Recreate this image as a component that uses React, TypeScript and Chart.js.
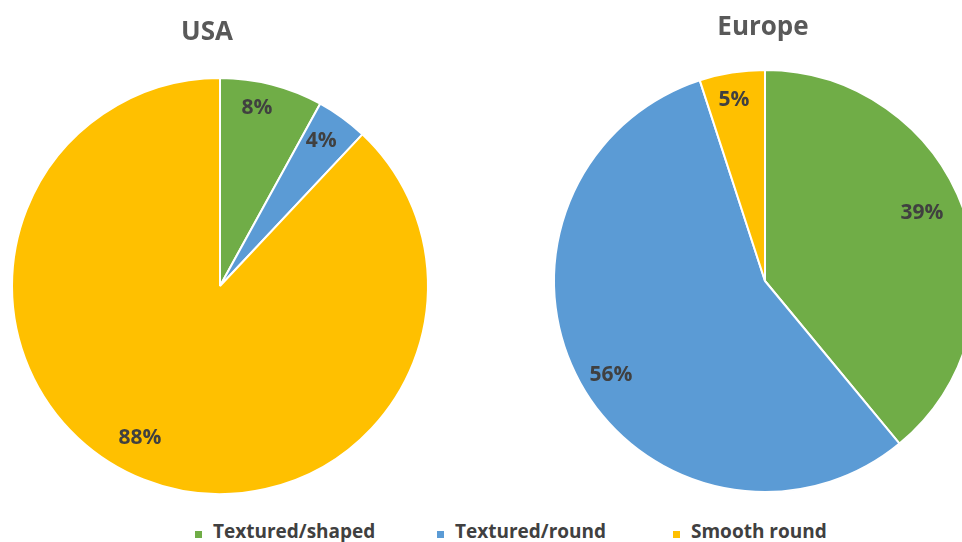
import React, { useEffect, useRef } from "react";
import { Chart, registerables } from "chart.js";

Chart.register(...registerables);

// ---- data ----
const categories = ["Textured/shaped", "Textured/round", "Smooth round"];
const usaValues = [8, 4, 88];
const europeValues = [39, 56, 5];
const sliceColors = ["#70AD47", "#5B9BD5", "#FFC000"];
const usaTitle = "USA";
const europeTitle = "Europe";

// label placement (style): distance from centre as a fraction of the radius,
// and a small angular nudge (degrees) from the slice's mid angle
const usaLabelRadial = [0.874, 0.85, 0.826];
const usaLabelNudge = [-2.7, -1.1, 6.2];
const europeLabelRadial = [0.81, 0.855, 0.87];
const europeLabelNudge = [-3.6, -2.6, -0.7];

const pieTextPlugin = {
  id: "pieText",
  afterDraw(chart: any, _args: any, opts: any) {
    const ctx = chart.ctx;
    const meta = chart.getDatasetMeta(0);
    const data = chart.data.datasets[0].data;
    ctx.save();
    ctx.textAlign = "center";
    ctx.textBaseline = "middle";
    ctx.fillStyle = "#404040";
    ctx.font = "bold 21px 'Open Sans'";
    meta.data.forEach((arc: any, i: number) => {
      const p = arc.getProps(["x", "y", "startAngle", "endAngle", "outerRadius"], true);
      const mid = (p.startAngle + p.endAngle) / 2 + (opts.nudge[i] * Math.PI) / 180;
      const r = p.outerRadius * opts.radial[i];
      ctx.fillText(data[i] + "%", p.x + Math.cos(mid) * r, p.y + Math.sin(mid) * r);
    });
    ctx.fillStyle = "#595959";
    ctx.font = "bold 26px 'Open Sans'";
    ctx.fillText(opts.title, opts.titleX, opts.titleY);
    ctx.restore();
  },
};

function makeConfig(values: number[], padding: any, text: any) {
  return {
    type: "pie" as const,
    data: {
      labels: categories,
      datasets: [
        {
          data: values,
          backgroundColor: sliceColors,
          borderColor: "#ffffff",
          borderWidth: 2,
          hoverOffset: 0,
        },
      ],
    },
    options: {
      animation: false as const,
      responsive: false,
      maintainAspectRatio: false,
      events: [],
      layout: { padding },
      plugins: {
        legend: { display: false },
        tooltip: { enabled: false },
        title: { display: false },
        pieText: text,
      },
    },
    plugins: [pieTextPlugin],
  };
}

function PieCanvas(props: {
  values: number[];
  left: number;
  width: number;
  height: number;
  padding: any;
  text: any;
}) {
  const ref = useRef<HTMLCanvasElement | null>(null);
  useEffect(() => {
    if (!ref.current) return;
    const chart = new Chart(ref.current, makeConfig(props.values, props.padding, props.text) as any);
    return () => chart.destroy();
  }, []);
  return (
    <canvas
      ref={ref}
      width={props.width}
      height={props.height}
      style={{ position: "absolute", left: props.left, top: 0, width: props.width, height: props.height }}
    />
  );
}

const legendX = [195, 437, 673];

export default function App() {
  return (
    <div
      style={{
        position: "fixed",
        left: 0,
        top: 0,
        width: 962,
        height: 542,
        overflow: "hidden",
        background: "#ffffff",
      }}
    >
      <PieCanvas
        values={usaValues}
        left={0}
        width={440}
        height={510}
        padding={{ left: 11, top: 77, right: 11, bottom: 15 }}
        text={{ title: usaTitle, titleX: 207, titleY: 33, radial: usaLabelRadial, nudge: usaLabelNudge }}
      />
      <PieCanvas
        values={europeValues}
        left={520}
        width={490}
        height={510}
        padding={{ left: 33, top: 69, right: 33, bottom: 17 }}
        text={{ title: europeTitle, titleX: 243, titleY: 28, radial: europeLabelRadial, nudge: europeLabelNudge }}
      />
      {categories.map((c, i) => (
        <div
          key={c}
          style={{
            position: "absolute",
            left: legendX[i],
            top: 521,
            height: 20,
            display: "flex",
            alignItems: "center",
            whiteSpace: "nowrap",
            fontFamily: "'Open Sans', sans-serif",
            fontWeight: 700,
            fontSize: 19,
            lineHeight: "20px",
            color: "#404040",
          }}
        >
          <span
            style={{
              display: "inline-block",
              width: 7,
              height: 7,
              background: sliceColors[i],
              marginRight: 11,
              marginTop: 6,
            }}
          />
          <span>{c}</span>
        </div>
      ))}
    </div>
  );
}
